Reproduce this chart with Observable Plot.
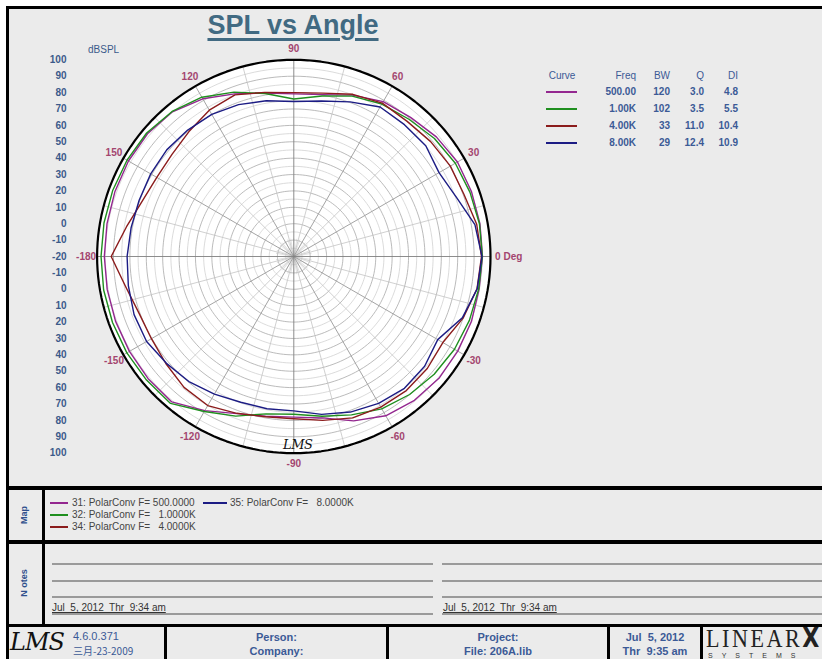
<!DOCTYPE html>
<html><head><meta charset="utf-8">
<script src="https://cdn.jsdelivr.net/npm/d3@7"></script>
<script src="https://cdn.jsdelivr.net/npm/@observablehq/plot@0.6"></script>
<style>
html,body{margin:0;padding:0;}
body{width:822px;height:659px;overflow:hidden;background:#fff;position:relative;font-family:Arial,"Liberation Sans",sans-serif;}
.a{position:absolute;white-space:pre;}
.bar{position:absolute;background:#000;}
.gl{position:absolute;background:#9a9a9a;height:2px;}
.hdr{color:#3b5a96;font-size:10px;font-weight:bold;line-height:12px;height:12px;}
.ml{color:#444;font-size:10px;line-height:12px;}
.ft{color:#3b5a96;font-family:"Liberation Sans Narrow","Arial Narrow",Arial,sans-serif;font-size:11px;line-height:13px;text-align:center;}
#chart{position:absolute;left:0;top:0;}
</style></head><body>
<div class="a" style="left:6px;top:6px;width:900px;height:700px;box-sizing:border-box;border:3px solid #000;background:#ebebeb;"></div>
<div class="a" id="title" style="left:0;width:586px;top:12px;text-align:center;font:bold 27px/27px Arial,'Liberation Sans',sans-serif;color:#416a82;text-decoration:underline;text-decoration-thickness:3px;text-underline-offset:4px;">SPL vs Angle</div>
<div class="a" style="left:88px;top:44px;font-size:10px;color:#3b5a8a;">dBSPL</div>
<div id="chart"></div>
<div class="a" style="left:283px;top:438px;font:italic 13px/14px 'DejaVu Serif',serif;color:#111;letter-spacing:-0.5px;">LMS</div>
<div id="table"></div>
<div class="bar" style="left:6px;width:900px;top:486px;height:4px;"></div>
<div class="bar" style="left:6px;width:900px;top:540px;height:4px;"></div>
<div class="bar" style="left:6px;width:900px;top:624px;height:3px;"></div>
<div class="bar" style="left:42px;width:3px;top:488px;height:138px;"></div>
<div class="a" style="left:6px;width:36px;top:509px;height:12px;line-height:12px;text-align:center;transform:rotate(-90deg);font-size:9px;font-weight:bold;color:#2f4f8c;">Map</div>
<div class="a" style="left:2px;width:44px;top:577px;height:12px;line-height:12px;text-align:center;transform:rotate(-90deg);font-size:9px;font-weight:bold;color:#2f4f8c;">N otes</div>
<div id="maplegend"></div>
<div class="gl" style="left:52px;width:381px;top:563px;"></div>
<div class="gl" style="left:52px;width:381px;top:580px;"></div>
<div class="gl" style="left:52px;width:381px;top:596px;"></div>
<div class="gl" style="left:52px;width:381px;top:613px;"></div>
<div class="gl" style="left:442px;width:400px;top:563px;"></div>
<div class="gl" style="left:442px;width:400px;top:580px;"></div>
<div class="gl" style="left:442px;width:400px;top:596px;"></div>
<div class="gl" style="left:442px;width:400px;top:613px;"></div>
<div class="a" style="left:52px;top:602px;font-family:'Liberation Sans Narrow','Arial Narrow',Arial,sans-serif;font-size:10px;color:#333;text-decoration:underline;">Jul  5, 2012  Thr  9:34 am</div>
<div class="a" style="left:443px;top:602px;font-family:'Liberation Sans Narrow','Arial Narrow',Arial,sans-serif;font-size:10px;color:#333;text-decoration:underline;">Jul  5, 2012  Thr  9:34 am</div>
<div class="bar" style="left:164px;width:3px;top:626px;height:40px;"></div>
<div class="bar" style="left:386px;width:3px;top:626px;height:40px;"></div>
<div class="bar" style="left:607px;width:3px;top:626px;height:40px;"></div>
<div class="bar" style="left:700px;width:3px;top:626px;height:40px;"></div>
<div class="a" style="left:10px;top:628px;font:italic 24px/28px 'DejaVu Serif',serif;color:#111;letter-spacing:-1px;">LMS</div>
<div class="a ft" style="left:73px;top:630px;text-align:left;">4.6.0.371</div>
<div class="a ft" style="left:73px;top:644px;text-align:left;font-family:'Noto Sans CJK SC','Liberation Sans Narrow',sans-serif;font-size:10px;">三月-23-2009</div>
<div class="a ft" style="left:167px;width:219px;top:631px;font-weight:bold;">Person:</div>
<div class="a ft" style="left:167px;width:219px;top:645px;font-weight:bold;">Company:</div>
<div class="a ft" style="left:389px;width:218px;top:631px;font-weight:bold;">Project:</div>
<div class="a ft" style="left:389px;width:218px;top:645px;font-weight:bold;">File: 206A.lib</div>
<div class="a ft" style="left:610px;width:90px;top:631px;font-weight:bold;">Jul  5, 2012</div>
<div class="a ft" style="left:610px;width:90px;top:645px;font-weight:bold;">Thr  9:35 am</div>
<div class="a" style="left:706px;top:628px;height:20px;font:26px/20px 'Liberation Serif','DejaVu Serif',serif;color:#222;letter-spacing:3px;transform:scaleX(0.85);transform-origin:left;">LINEAR<b style="font:900 26px/20px 'DejaVu Sans',sans-serif;">X</b></div>
<div class="a" style="left:708px;top:652px;font:7px/7px Arial,sans-serif;color:#333;letter-spacing:9px;">SYSTEMS</div>
<script>
// ---- data ----
const angles = [-180,-170,-160,-150,-140,-130,-120,-110,-100,-90,-80,-70,-60,-50,-40,-30,-20,-10,0,10,20,30,40,50,60,70,80,90,100,110,120,130,140,150,160,170,180];
const dbPurple = [95.6,95.6,95.7,95.8,96.0,95.8,88.6,82.0,79.0,78.0,80.0,86.7,92.2,94.5,95.6,95.5,95.4,94.8,95.1,95.3,95.4,95.3,93.5,90.8,89.1,84.8,80.3,79.2,81.3,85.6,91.1,95.2,96.5,96.5,96.1,95.7,95.6];
const dbGreen  = [97.6,97.8,97.7,97.6,97.3,97.0,89.2,83.6,77.5,76.2,79.0,82.8,87.3,89.9,91.8,93.2,94.0,94.5,95.0,95.0,94.4,93.8,92.0,89.3,87.4,84.1,79.4,76.1,81.0,86.7,92.2,95.5,97.2,97.5,97.6,97.6,97.6];
const dbRed    = [91.4,84.3,80.6,80.3,81.8,84.2,85.0,81.8,79.3,79.0,81.5,84.8,86.1,86.8,86.3,85.0,89.9,93.5,94.5,93.3,90.5,90.3,89.0,87.6,88.0,85.3,81.2,80.0,81.7,84.9,83.1,79.5,77.0,76.5,78.5,83.7,91.4];
const dbBlue   = [81.7,82.5,83.7,83.7,81.4,79.6,76.9,74.6,74.3,74.2,77.8,81.0,83.5,85.0,84.2,81.4,89.4,93.6,94.8,92.2,85.6,82.3,85.1,85.0,85.3,80.4,76.3,74.6,76.5,78.6,80.1,80.7,81.2,80.8,80.4,80.8,81.7];
const curveFreq = ["500.00","1.00K","4.00K","8.00K"];
const curveBW   = ["120","102","33","29"];
const curveQ    = ["3.0","3.5","11.0","12.4"];
const curveDI   = ["4.8","5.5","10.4","10.9"];
const curveColors = ["#93278f","#1f8f1f","#8b1c1c","#1c1c84"];
const mapNames = ["31: PolarConv F= 500.0000","32: PolarConv F=   1.0000K","34: PolarConv F=   4.0000K","35: PolarConv F=   8.0000K"];
const dbTicks = d3.range(-120, 121, 10);           // signed radius (dB + 20)
const angleTicks = [90,60,30,0,-30,-60,-90,-120,-150,180,150,120];
const angleText  = ["90","60","30","0 Deg","-30","-60","-90","-120","-150","-180","150","120"];
const dbMin = -20, dbMax = 100;

// ---- polar helpers ----
const R = dbMax - dbMin;
const rad = a => a * Math.PI / 180;
const X = d => d.r * Math.cos(rad(d.a));
const Y = d => d.r * Math.sin(rad(d.a));
const ring = rr => d3.range(0, 361, 2).map(a => ({a, r: rr, ring: rr}));
const series = [dbPurple, dbGreen, dbRed, dbBlue];
const rows = series.flatMap((s, k) => angles.map((a, i) => ({k, a, r: s[i] - dbMin})));
const rings5 = d3.range(5, R, 5).filter(v => v % 10 === 5).flatMap(ring);
const rings10 = d3.range(10, R, 10).flatMap(ring);
const spokes = d3.range(0, 360, 15);

const marks = [
  Plot.line(ring(R), {x: X, y: Y, fill: "white", stroke: "none"}),
  Plot.line(rings5, {x: X, y: Y, z: "ring", stroke: "#d2d2d2", strokeWidth: 0.8}),
  Plot.line(rings10, {x: X, y: Y, z: "ring", stroke: "#a9a9a9", strokeWidth: 0.8}),
  Plot.link(d3.range(0, 360, 10), {x1: 0, y1: 0, x2: a => 11 * Math.cos(rad(a)), y2: a => 11 * Math.sin(rad(a)), stroke: "#b5b5b5", strokeWidth: 0.4}),
  Plot.link(spokes.filter(a => a % 30 !== 0), {x1: 0, y1: 0, x2: a => R * Math.cos(rad(a)), y2: a => R * Math.sin(rad(a)), stroke: "#c4c4c4", strokeWidth: 0.8}),
  Plot.link(spokes.filter(a => a % 30 === 0 && a % 90 !== 0), {x1: 0, y1: 0, x2: a => R * Math.cos(rad(a)), y2: a => R * Math.sin(rad(a)), stroke: "#9a9a9a", strokeWidth: 0.9}),
  Plot.link(spokes.filter(a => a % 90 === 0), {x1: 0, y1: 0, x2: a => R * Math.cos(rad(a)), y2: a => R * Math.sin(rad(a)), stroke: "#808080", strokeWidth: 0.9}),
  ...series.map((s, k) => Plot.line(rows.filter(d => d.k === k), {x: X, y: Y, stroke: curveColors[k], strokeWidth: 1.4})),
  Plot.line(ring(R), {x: X, y: Y, stroke: "#000", strokeWidth: 2.2}),
  Plot.text(angleTicks.map((a, i) => ({a, r: a === 0 ? 122.8 : 126.7, t: angleText[i]})), {
    x: X, y: Y, text: "t", fill: "#a3456f", fontWeight: "bold", fontSize: 10
  }),
  Plot.axisY({ticks: dbTicks, tickFormat: d => String(Math.abs(d) + dbMin), tickSize: 0, tickPadding: 4,
    fontSize: 10, fontWeight: "bold", color: "#3b5a8a", label: null})
];

const svg = Plot.plot({
  width: 540, height: 480,
  marginLeft: 70, marginTop: 0, marginRight: 0, marginBottom: 0,
  x: {domain: [-R, R], range: [96.6, 490], axis: null},
  y: {domain: [-R, R], range: [452.7, 59.3]},
  style: {background: "transparent", fontFamily: "Arial, 'Liberation Sans', sans-serif", overflow: "visible"},
  marks
});
svg.querySelectorAll("text").forEach(t => { if (t.textContent === "0 Deg") t.setAttribute("text-anchor", "start"); });
document.getElementById("chart").appendChild(svg);

// ---- legend table (top right) ----
const tbl = document.getElementById("table");
const add = (parent, txt, style, cls) => { const d = document.createElement("div"); d.className = "a " + (cls || ""); d.style.cssText = style; d.textContent = txt; parent.appendChild(d); return d; };
const rowY = [69.5, 86, 103, 120, 137];
add(tbl, "Curve", `left:540px;width:44px;top:${rowY[0]}px;text-align:center;font-weight:normal;`, "hdr");
const cols = [["Freq", 636, curveFreq], ["BW", 670, curveBW], ["Q", 704, curveQ], ["DI", 738, curveDI]];
cols.forEach(([h, right, vals]) => {
  add(tbl, h, `left:${right - 60}px;width:60px;top:${rowY[0]}px;text-align:right;font-weight:normal;`, "hdr");
  vals.forEach((v, i) => add(tbl, v, `left:${right - 60}px;width:60px;top:${rowY[i + 1]}px;text-align:right;`, "hdr"));
});
curveColors.forEach((c, i) => add(tbl, "", `left:546px;width:31px;height:2px;top:${rowY[i + 1] + 5}px;background:${c};`));

// ---- map legend ----
const ml = document.getElementById("maplegend");
const mapPos = [[50, 496.5], [50, 508.5], [50, 520.5], [203, 496.5]];
mapNames.forEach((n, i) => {
  const [x, y] = mapPos[i];
  add(ml, "", `left:${x}px;width:${i === 3 ? 24 : 18}px;height:2px;top:${y + 5}px;background:${curveColors[i]};`);
  add(ml, n, `left:${x + (i === 3 ? 27 : 22)}px;top:${y}px;`, "ml");
});
</script>
</body></html>
